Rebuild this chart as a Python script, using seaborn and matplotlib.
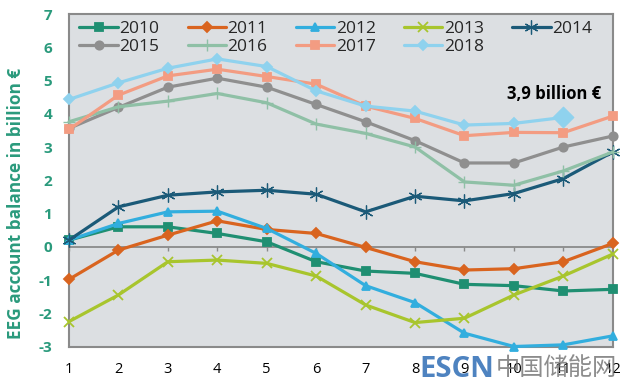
import pandas as pd
import seaborn as sns
import matplotlib.pyplot as plt
import numpy as np

sns.set_style('white')
plt.rcParams['font.family'] = ['Open Sans', 'Noto Sans CJK SC', 'DejaVu Sans']
plt.rcParams['axes.unicode_minus'] = False

# Datos (mes, saldo en mil millones €)
months = list(range(1, 13))
y2010 = [0.2, 0.6, 0.6, 0.4, 0.15, -0.45, -0.73, -0.8, -1.13, -1.17, -1.33, -1.28]
y2011 = [-0.98, -0.1, 0.35, 0.78, 0.52, 0.4, -0.02, -0.45, -0.7, -0.66, -0.45, 0.1]
y2012 = [0.2, 0.7, 1.05, 1.07, 0.55, -0.2, -1.17, -1.68, -2.6, -3.0, -2.95, -2.68]
y2013 = [-2.25, -1.45, -0.45, -0.4, -0.5, -0.88, -1.75, -2.28, -2.15, -1.45, -0.88, -0.22]
y2014 = [0.2, 1.2, 1.55, 1.65, 1.7, 1.58, 1.05, 1.52, 1.38, 1.6, 2.05, 2.85]
y2015 = [3.56, 4.19, 4.8, 5.07, 4.8, 4.28, 3.76, 3.19, 2.52, 2.52, 3.0, 3.33]
y2016 = [3.76, 4.21, 4.38, 4.61, 4.33, 3.69, 3.41, 3.0, 1.95, 1.85, 2.28, 2.85]
y2017 = [3.53, 4.56, 5.14, 5.34, 5.12, 4.89, 4.23, 3.86, 3.34, 3.44, 3.43, 3.93]
y2018 = [4.43, 4.93, 5.37, 5.65, 5.42, 4.69, 4.23, 4.08, 3.66, 3.71, 3.89]

series = {'2010': y2010, '2011': y2011, '2012': y2012, '2013': y2013, '2014': y2014,
          '2015': y2015, '2016': y2016, '2017': y2017, '2018': y2018}

# Estilo por año: color, marcador, tamaño, grosor del borde
estilos = {
    '2010': ('#1f8f72', 's', 6, 1.3),
    '2011': ('#d9641f', 'D', 5, 1.3),
    '2012': ('#32aede', '^', 6, 1.3),
    '2013': ('#a8c52d', 'x', 7, 1.3),
    '2014': ('#1b5a78', (6, 2, 0), 10, 0.9),
    '2015': ('#8f8f8f', 'o', 6, 1.3),
    '2016': ('#8fc0a6', '+', 8, 1.0),
    '2017': ('#f39c82', 's', 6, 1.3),
    '2018': ('#8fd2ee', 'D', 5, 1.3),
}

fig = plt.figure(figsize=(6.24, 3.86), dpi=100)
ax = fig.add_axes([0.1106, 0.1023, 0.8714, 0.8614])
ax.set_facecolor('#dcdfe2')

handles = {}
for year, vals in series.items():
    color, marker, ms, mew = estilos[year]
    df = pd.DataFrame({'Mes': months[:len(vals)], 'Valor': vals})
    sns.lineplot(data=df, x='Mes', y='Valor', color=color, marker=marker, markersize=ms,
                 markeredgecolor=color, markeredgewidth=mew, linewidth=2.3,
                 label=year, ax=ax, clip_on=False, zorder=3)
    handles[year] = ax.get_lines()[-1]

# Último punto de 2018 resaltado
df18 = pd.DataFrame({'Mes': months[len(y2018) - 1:len(y2018)], 'Valor': y2018[-1:]})
sns.scatterplot(data=df18, x='Mes', y='Valor', marker='D', s=110, color='#8fd2ee',
                edgecolor='#8fd2ee', ax=ax, zorder=4)

ax.text(10.82, 4.58, '3,9 billion €', ha='center', va='center', fontsize=12,
        fontweight='bold', color='black')

# Línea del cero con marcas
ax.axhline(0, color='#8a8a8a', linewidth=1.3, zorder=2)
ax.vlines(months, 0, -0.12, color='#8a8a8a', linewidth=1.0, zorder=2)

ax.set_xlim(1, 12)
ax.set_ylim(-3, 7)
ax.set_xticks(months)
ax.set_yticks(range(-3, 8))
ax.tick_params(axis='x', length=0, pad=11, labelsize=10.5, labelcolor='black')
ax.tick_params(axis='y', direction='out', length=5, width=1.3, color='#8a8a8a',
               pad=7, labelsize=11, labelcolor='#2a9a7c')
for lbl in ax.get_yticklabels():
    lbl.set_fontweight('bold')
for s in ax.spines.values():
    s.set_color('#8a8a8a')
    s.set_linewidth(1.5)

ax.set_xlabel('')
ax.set_ylabel('EEG account balance in billion €', fontsize=12.4, fontweight='bold',
              color='#2a9a7c')
ax.yaxis.set_label_coords(-0.081, 0.43)

orden = ['2010', '2015', '2011', '2016', '2012', '2017', '2013', '2018', '2014']
ax.legend([handles[k] for k in orden], orden, ncol=5, loc='upper left',
          bbox_to_anchor=(0.0, 1.01), frameon=False, fontsize=12.5,
          handlelength=2.2, handletextpad=0.1, columnspacing=1.63,
          labelspacing=0.1, borderaxespad=0.2)

# Marca de agua
fig.text(0.672, 0.005, 'ESCN', fontsize=21, fontweight='bold', color='#2f6db5',
         alpha=0.85, ha='left', va='bottom')
fig.text(0.795, 0.012, '中国储能网', fontsize=17.5, color='#6f6f6f', alpha=0.8,
         ha='left', va='bottom', family=['Noto Sans CJK SC', 'DejaVu Sans'])

plt.savefig('out.png', dpi=100)
